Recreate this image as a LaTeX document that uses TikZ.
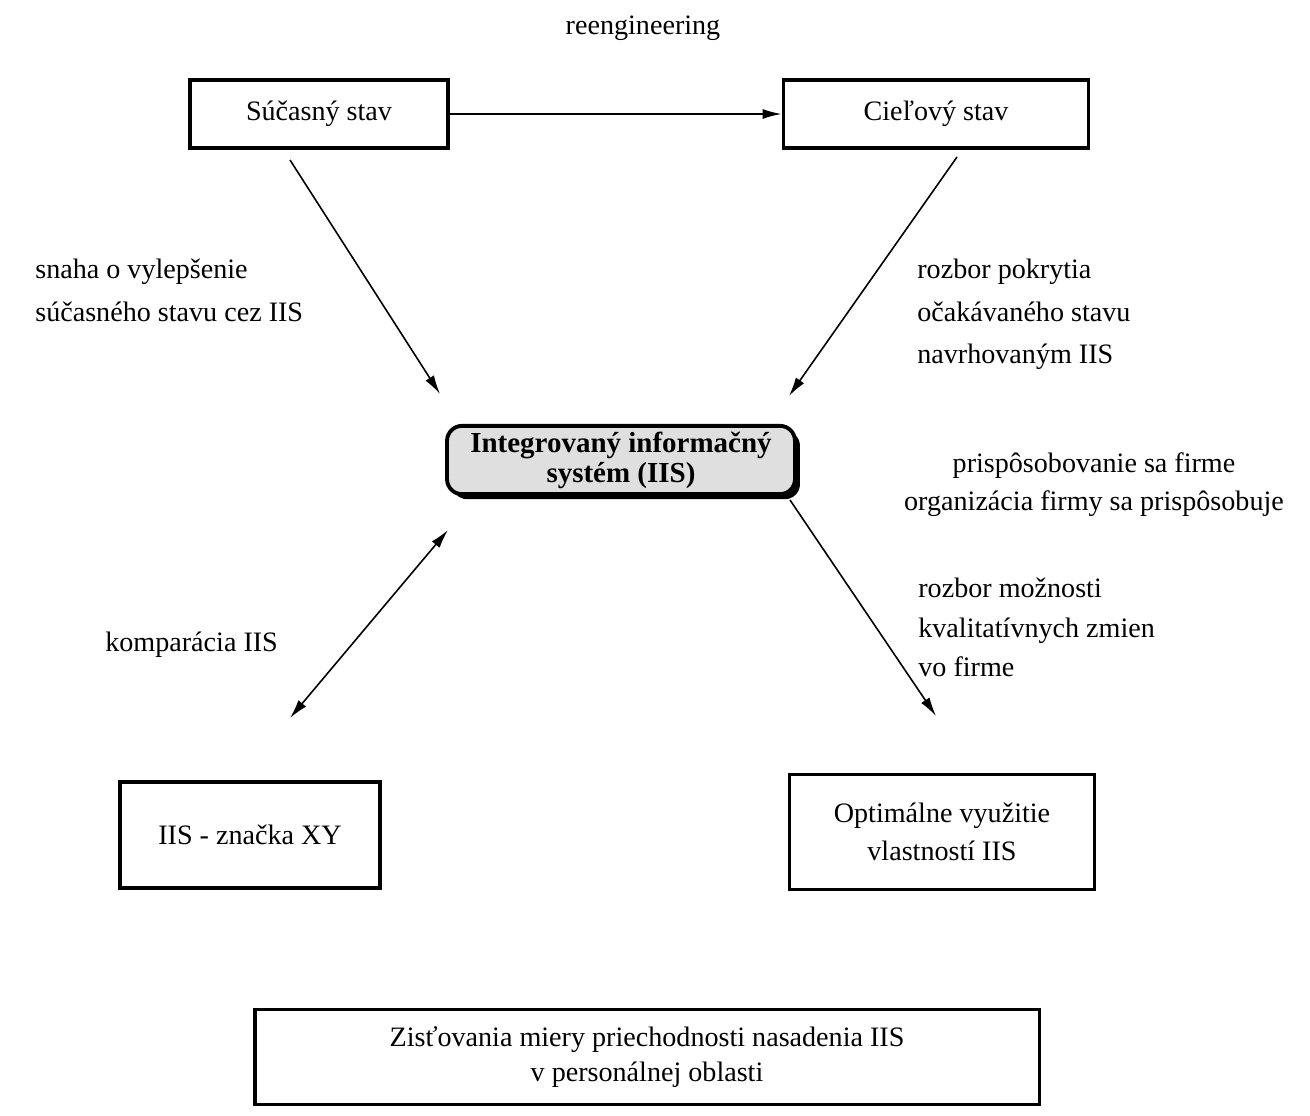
\documentclass[tikz,border=0pt]{standalone}
\usepackage{fontspec}
\setmainfont{Liberation Serif}
\usetikzlibrary{arrows.meta,positioning,shadows}

\begin{document}
\begin{tikzpicture}[
  x=0.02cm, y=-0.02cm,
  font=\fontsize{16}{24}\selectfont,
  box/.style={draw, line width=2.2pt, align=center, inner sep=4pt},
  iisbox/.style={draw, line width=2.2pt, rounded corners=0.3cm, fill=gray!25, align=center,
    drop shadow={fill=black, opacity=1, shadow xshift=0.1cm, shadow yshift=-0.1cm}},
  note/.style={align=left, anchor=north west, inner sep=0pt},
  arr/.style={-{Latex[length=0.38cm,width=0.2cm]}, line width=0.9pt},
  darr/.style={{Latex[length=0.38cm,width=0.2cm]}-{Latex[length=0.38cm,width=0.2cm]}, line width=0.9pt}
]
\useasboundingbox (0,0) rectangle (1310,1115);

% boxes
\node[box, minimum width=5.16cm, minimum height=1.36cm] (sucasny) at (319,114) {Súčasný stav};
\node[box, minimum width=6.1cm, minimum height=1.36cm] (ciel) at (936,114) {Cieľový stav};
\node[iisbox, minimum width=6.96cm, minimum height=1.2cm, font=\fontsize{16.5}{17}\selectfont\bfseries]
  (iis) at (621,460) {Integrovaný informačný\\systém (IIS)};
\node[box, minimum width=5.2cm, minimum height=2.12cm] (znacka) at (250,835) {IIS - značka XY};
\node[box, minimum width=6.1cm, minimum height=2.3cm, font=\fontsize{16}{22}\selectfont]
  (optim) at (942,832) {Optimálne využitie\\vlastností IIS};
\node[box, minimum width=15.7cm, minimum height=1.9cm, font=\fontsize{16}{19.5}\selectfont]
  (zist) at (647,1057) {Zisťovania miery priechodnosti nasadenia IIS\\v personálnej oblasti};

% labels
\node (reeng) at (643,28) {reengineering};
\node[note] (snaha) at (35,259) {snaha o vylepšenie\\súčasného stavu cez IIS};
\node[note] (pokryt) at (917,259) {rozbor pokrytia\\očakávaného stavu\\navrhovaným IIS};
\node[align=center, anchor=north, inner sep=0pt, font=\fontsize{16}{22}\selectfont]
  (prisp) at (1094,452) {prispôsobovanie sa firme\\organizácia firmy sa prispôsobuje};
\node[note, font=\fontsize{16}{22.5}\selectfont] (moznost) at (918,578) {rozbor možnosti\\kvalitatívnych zmien\\vo firme};
\node[anchor=west, inner sep=0pt] (kompar) at (105,645) {komparácia IIS};

% free ends of the connectors
\coordinate (sucOut) at (290,160);
\coordinate (iisInL) at (440,394);
\coordinate (cielOut) at (957,157);
\coordinate (iisInR) at (789,396);
\coordinate (iisOutL) at (448,530);
\coordinate (znackaIn) at (290,718);
\coordinate (iisOutR) at (790,500);
\coordinate (optimIn) at (936,716);

% connectors
\draw[arr] (sucasny.east) -- (ciel.west);
\draw[arr] (sucOut) -- (iisInL);
\draw[arr] (cielOut) -- (iisInR);
\draw[darr] (iisOutL) -- (znackaIn);
\draw[arr] (iisOutR) -- (optimIn);
\end{tikzpicture}
\end{document}
